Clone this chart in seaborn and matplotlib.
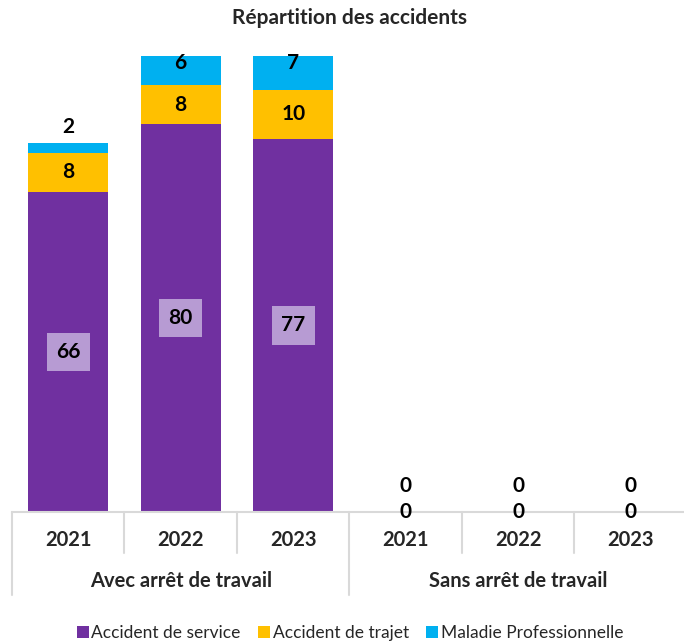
import matplotlib
matplotlib.use("Agg")
import matplotlib.pyplot as plt
import seaborn as sns
import pandas as pd
from matplotlib.patches import Patch
from matplotlib.transforms import blended_transform_factory

title = "Répartition des accidents"
groups = ["Avec arrêt de travail", "Sans arrêt de travail"]
years = ["2021", "2022", "2023"]
series_names = ["Accident de service", "Accident de trajet", "Maladie Professionnelle"]
service = [66, 80, 77, 0, 0, 0]
trajet = [8, 8, 10, 0, 0, 0]
maladie = [2, 6, 7, 0, 0, 0]
colors = ["#7030A0", "#FFC000", "#00B0F0"]

sns.set_theme(style="white")
plt.rcParams["font.family"] = ["Lato", "DejaVu Sans"]

keys = [f"{g}|{y}" for g in groups for y in years]
s1 = service
s2 = [a + b for a, b in zip(service, trajet)]
s3 = [a + b for a, b in zip(s2, maladie)]
df = pd.DataFrame({"key": keys, "s1": s1, "s2": s2, "s3": s3})

fig = plt.figure(figsize=(6.84, 6.44), dpi=100)
ax = fig.add_axes([12 / 684, 132 / 644, 675 / 684, 485 / 644])

for col, c in zip(["s3", "s2", "s1"], colors[::-1]):
    sns.barplot(data=df, x="key", y=col, order=keys, color=c, width=0.71,
                saturation=1, ax=ax, linewidth=0)

ax.set_ylim(0, 100)
ax.set_xlim(-0.5, 5.5)
ax.set_xlabel("")
ax.set_ylabel("")
ax.set_yticks([])
ax.set_xticks(range(6))
ax.set_xticklabels([])
ax.tick_params(axis="x", length=0)
for sp in ["top", "left", "right"]:
    ax.spines[sp].set_visible(False)
ax.spines["bottom"].set_color("#D9D9D9")
ax.spines["bottom"].set_linewidth(1.5)

LBL = 15
# data labels
for i in range(6):
    # service
    if service[i] > 0:
        ax.text(i, service[i] / 2, str(service[i]), ha="center", va="center",
                fontsize=LBL, fontweight="bold", color="black",
                bbox=dict(boxstyle="square,pad=0.45", fc="#B79BD3", ec="none"))
    else:
        ax.text(i, 0, "0", ha="center", va="center", fontsize=LBL,
                fontweight="bold", color="black")
    # trajet
    if trajet[i] > 0:
        ax.text(i, service[i] + trajet[i] / 2, str(trajet[i]), ha="center",
                va="center", fontsize=LBL, fontweight="bold", color="black")
    # maladie
    top = s3[i]
    if s3[i] == 0:
        y = 5.4
    elif maladie[i] < 4:
        y = top + 3.3
    else:
        y = top - 1.5 if top - 1.5 > s2[i] else top
    ax.text(i, y, str(maladie[i]), ha="center", va="center", fontsize=LBL,
            fontweight="bold", color="black")

# multi-level x axis
trans = blended_transform_factory(ax.transData, ax.transAxes)
ax_h = 485
short = -41 / ax_h
long_ = -83 / ax_h
for b in range(7):
    xb = b - 0.5
    yb = long_ if b % 3 == 0 else short
    ax.plot([xb, xb], [0, yb], transform=trans, color="#D9D9D9", lw=1.5,
            clip_on=False)
for i in range(6):
    ax.text(i, -28 / ax_h, years[i % 3], transform=trans, ha="center",
            va="center", fontsize=14.5, fontweight="bold")
for g, name in enumerate(groups):
    ax.text(g * 3 + 1, -69 / ax_h, name, transform=trans, ha="center",
            va="center", fontsize=14.5, fontweight="bold")

fig.text(350 / 684, 1 - 18 / 644, title, ha="center", va="center",
         fontsize=15, fontweight="bold")

handles = [Patch(facecolor=c, edgecolor="none", label=n)
           for c, n in zip(colors, series_names)]
fig.legend(handles=handles, loc="center", bbox_to_anchor=(350 / 684, 1 - 633 / 644),
           ncol=3, frameon=False, fontsize=12.5, handlelength=0.7,
           handleheight=0.7, handletextpad=0.15, columnspacing=1.0)

fig.savefig("out.png", dpi=100)
